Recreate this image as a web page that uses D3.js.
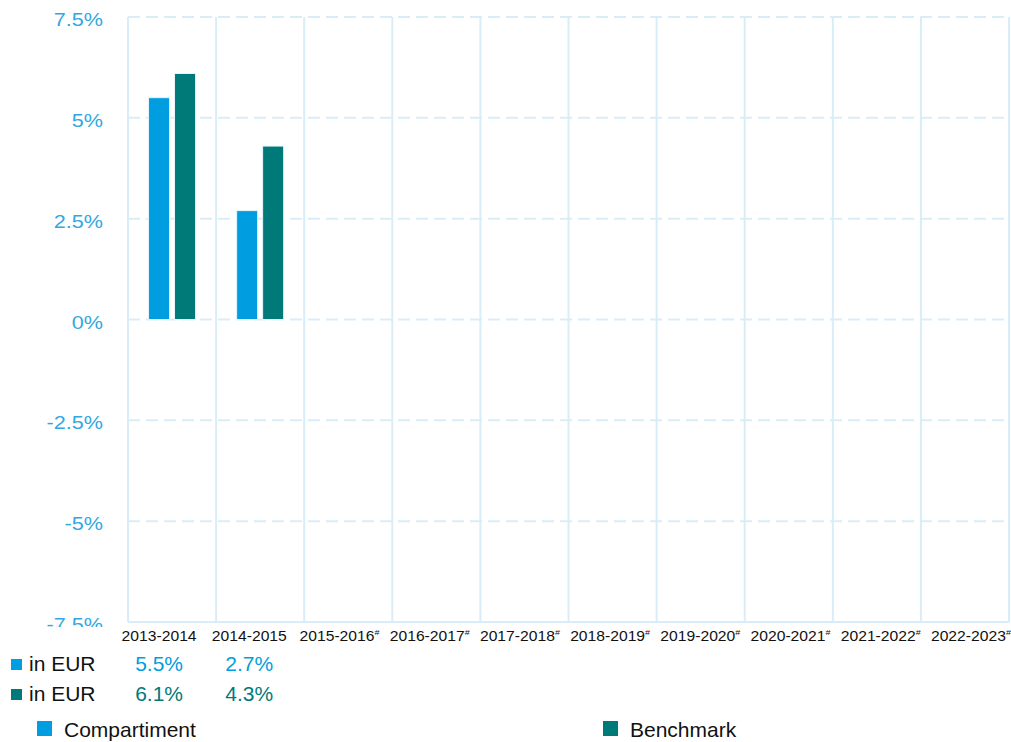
<!DOCTYPE html>
<html>
<head>
<meta charset="utf-8">
<script src="https://cdn.jsdelivr.net/npm/d3@7"></script>
<style>
  body { margin: 0; background: #fff; }
  svg { font-family: Arial, "Liberation Sans", sans-serif; }
</style>
</head>
<body>
<svg width="1011" height="742"></svg>
<script>
const periods = ['2013-2014', '2014-2015', '2015-2016', '2016-2017', '2017-2018',
    '2018-2019', '2019-2020', '2020-2021', '2021-2022', '2022-2023'];
const estimated = [false, false, true, true, true, true, true, true, true, true];
const seriesNames = ['Compartiment', 'Benchmark'];
const rowLabels = ['in EUR', 'in EUR'];
const compartiment = [5.5, 2.7];
const benchmark = [6.1, 4.3];
const yTicks = [-7.5, -5, -2.5, 0, 2.5, 5, 7.5];
const colors = ['#009ee0', '#007a78'];

const svg = d3.select('svg');
const margin = { left: 128, top: 17 };
const plotW = 1009 - margin.left;
const plotH = 622 - margin.top;

const x0 = d3.scaleBand()
    .domain(periods)
    .range([margin.left, margin.left + plotW])
    .padding(0);

const x1 = d3.scaleBand()
    .domain(seriesNames)
    .range([0, x0.bandwidth()])
    .paddingInner(0.19)
    .paddingOuter(0.79);

// the category labels and table values sit on a slightly wider grid than the plot
const xLabel = d3.scaleBand()
    .domain(periods)
    .range([114, 1016])
    .padding(0);

const y = d3.scaleLinear()
    .domain([-7.5, 7.5])
    .range([margin.top + plotH, margin.top]);

// grid
const grid = svg.append('g');
grid.selectAll('line.h')
    .data(yTicks)
    .enter()
    .append('line')
    .attr('x1', margin.left)
    .attr('x2', margin.left + plotW)
    .attr('y1', (d) => y(d))
    .attr('y2', (d) => y(d))
    .attr('stroke', '#d9edf9')
    .attr('stroke-width', 2)
    .attr('stroke-dasharray', (d) => d === -7.5 ? null : '12,6');

grid.selectAll('line.v')
    .data(periods.concat(['end']))
    .enter()
    .append('line')
    .attr('x1', (d) => d === 'end' ? margin.left + plotW : x0(d))
    .attr('x2', (d) => d === 'end' ? margin.left + plotW : x0(d))
    .attr('y1', margin.top)
    .attr('y2', margin.top + plotH)
    .attr('stroke', '#d9edf9')
    .attr('stroke-width', 2);

// y labels (bottom one is cut off like in the original)
svg.append('clipPath')
    .attr('id', 'yclip')
    .append('rect')
    .attr('x', 0).attr('y', 0).attr('width', 120).attr('height', 627);

svg.append('g')
    .attr('clip-path', 'url(#yclip)')
    .selectAll('text')
    .data(yTicks)
    .enter()
    .append('text')
    .attr('transform', (d) => `translate(103, ${y(d) + 9}) scale(1.2, 1)`)
    .attr('text-anchor', 'end')
    .attr('fill', '#33a8df')
    .attr('font-size', 18)
    .text((d) => String(d) + '%');

// bars
const barData = [];
periods.forEach((p, i) => {
    if (i < compartiment.length) barData.push({ period: p, series: seriesNames[0], value: compartiment[i] });
    if (i < benchmark.length) barData.push({ period: p, series: seriesNames[1], value: benchmark[i] });
});

svg.append('g')
    .selectAll('rect')
    .data(barData)
    .enter()
    .append('rect')
    .attr('x', (d) => x0(d.period) + x1(d.series))
    .attr('width', x1.bandwidth())
    .attr('y', (d) => y(Math.max(0, d.value)))
    .attr('height', (d) => Math.abs(y(d.value) - y(0)))
    .attr('fill', (d) => colors[seriesNames.indexOf(d.series)])
    .attr('stroke', '#e8f4fb')
    .attr('stroke-width', 1);

// x labels
const xl = svg.append('g')
    .selectAll('text')
    .data(periods)
    .enter()
    .append('text')
    .attr('transform', (d) => `translate(${xLabel(d) + xLabel.bandwidth() / 2}, 641) scale(1.12, 1)`)
    .attr('text-anchor', 'middle')
    .attr('font-size', 14)
    .attr('fill', '#111');
xl.append('tspan').text((d) => d);
xl.filter((d, i) => estimated[i])
    .append('tspan')
    .attr('font-size', 8)
    .attr('dy', -6)
    .text('#');

// table rows
const rows = [compartiment, benchmark];
rows.forEach((vals, r) => {
    const ry = 671 + r * 30;
    svg.append('rect')
        .attr('x', 11).attr('y', ry - 12)
        .attr('width', 11).attr('height', 11)
        .attr('fill', colors[r]);
    svg.append('text')
        .attr('x', 29).attr('y', ry)
        .attr('font-size', 21)
        .attr('fill', '#111')
        .text(rowLabels[r]);
    svg.append('g')
        .selectAll('text')
        .data(vals)
        .enter()
        .append('text')
        .attr('x', (d, i) => xLabel(periods[i]) + xLabel.bandwidth() / 2)
        .attr('y', ry)
        .attr('text-anchor', 'middle')
        .attr('font-size', 21)
        .attr('fill', colors[r])
        .text((d) => d.toFixed(1) + '%');
});

// legend
const legendX = [37, 603];
seriesNames.forEach((name, i) => {
    svg.append('rect')
        .attr('x', legendX[i]).attr('y', 721)
        .attr('width', 15).attr('height', 15)
        .attr('fill', colors[i]);
    svg.append('text')
        .attr('x', legendX[i] + 27).attr('y', 737)
        .attr('font-size', 21)
        .attr('fill', '#111')
        .text(name);
});
</script>
</body>
</html>
